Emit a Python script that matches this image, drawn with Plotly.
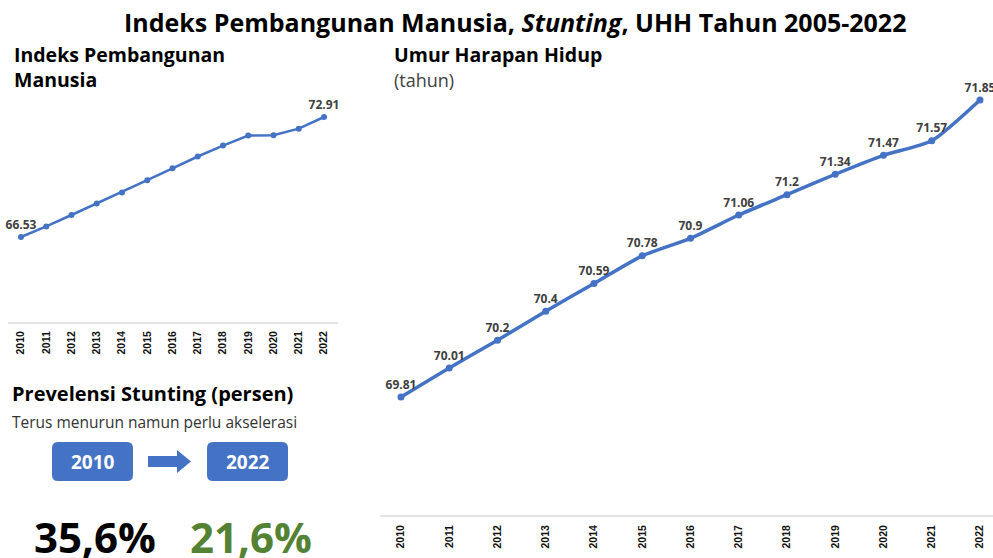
import plotly.graph_objects as go

W, H = 993, 558

years = list(range(2010, 2023))
ipm = [66.53, 67.09, 67.70, 68.31, 68.90, 69.55, 70.18, 70.81, 71.39, 71.92, 71.94, 72.29, 72.91]
ipm_labels = ["66.53", "", "", "", "", "", "", "", "", "", "", "", "72.91"]
uhh = [69.81, 70.01, 70.2, 70.4, 70.59, 70.78, 70.9, 71.06, 71.2, 71.34, 71.47, 71.57, 71.85]
uhh_labels = ["69.81", "70.01", "70.2", "70.4", "70.59", "70.78", "70.9", "71.06", "71.2", "71.34", "71.47", "71.57", "71.85"]
stunting_years = ["2010", "2022"]
stunting_values = ["35,6%", "21,6%"]

BLUE = "#4472C4"
LABEL = "#404040"


def px(x):
    return x / W


def py(y):
    return 1 - y / H


fig = go.Figure()

fig.add_trace(go.Scatter(
    x=years, y=ipm, mode="lines+markers+text", text=ipm_labels,
    textposition="top center",
    textfont=dict(family="Open Sans", size=12, color=LABEL, weight="bold"),
    line=dict(color=BLUE, width=2.5), marker=dict(size=6, color=BLUE),
    xaxis="x", yaxis="y", cliponaxis=False, hoverinfo="skip",
))
fig.add_trace(go.Scatter(
    x=years, y=uhh, mode="lines+markers+text", text=uhh_labels,
    textposition="top center",
    textfont=dict(family="Open Sans", size=12, color=LABEL, weight="bold"),
    line=dict(color=BLUE, width=3.5, shape="spline", smoothing=0.6),
    marker=dict(size=7, color=BLUE),
    xaxis="x2", yaxis="y2", cliponaxis=False, hoverinfo="skip",
))

tickfont = dict(family="Liberation Sans", size=10.5, color="#111111", weight="bold")
axis_common = dict(
    showgrid=False, zeroline=False, showline=True, linecolor="#e4e4e4", linewidth=2,
    tickangle=-90, ticks="", tickfont=tickfont, tickvals=years,
    ticktext=[str(y) for y in years], fixedrange=True,
)


def rrect(x0, y0, x1, y1, r):
    return (f"M {px(x0 + r)},{py(y0)} L {px(x1 - r)},{py(y0)} "
            f"Q {px(x1)},{py(y0)} {px(x1)},{py(y0 + r)} L {px(x1)},{py(y1 - r)} "
            f"Q {px(x1)},{py(y1)} {px(x1 - r)},{py(y1)} L {px(x0 + r)},{py(y1)} "
            f"Q {px(x0)},{py(y1)} {px(x0)},{py(y1 - r)} L {px(x0)},{py(y0 + r)} "
            f"Q {px(x0)},{py(y0)} {px(x0 + r)},{py(y0)} Z")


arrow = (f"M {px(148)},{py(456)} L {px(177)},{py(456)} L {px(177)},{py(450)} "
         f"L {px(191)},{py(461.5)} L {px(177)},{py(473)} L {px(177)},{py(467)} "
         f"L {px(148)},{py(467)} Z")

shapes = [
    dict(type="path", xref="paper", yref="paper", path=rrect(52, 442, 133, 481, 6),
         fillcolor=BLUE, line=dict(width=0)),
    dict(type="path", xref="paper", yref="paper", path=rrect(207, 442, 288, 481, 6),
         fillcolor=BLUE, line=dict(width=0)),
    dict(type="path", xref="paper", yref="paper", path=arrow,
         fillcolor=BLUE, line=dict(width=0)),
]


def ann(text, x, y, size, color="#000000", bold=True, xanchor="left", family="Open Sans"):
    return dict(text=text, x=px(x), y=py(y), xref="paper", yref="paper",
                xanchor=xanchor, yanchor="middle", showarrow=False, align=xanchor,
                font=dict(family=family, size=size, color=color,
                          weight="bold" if bold else "normal"))


annotations = [
    ann("Indeks Pembangunan Manusia, <i>Stunting</i>, UHH Tahun 2005-2022", 515, 21.5, 25,
        xanchor="center"),
    ann("Indeks Pembangunan<br>Manusia", 12, 67, 19.5),
    ann("Umur Harapan Hidup", 392, 55, 19.5),
    ann("(tahun)", 392, 80, 18, color="#404040", bold=False),
    ann("Prevelensi Stunting (persen)", 10, 393, 20),
    ann("Terus menurun namun perlu akselerasi", 10, 422, 15.5, color="#333333", bold=False),
    ann(stunting_years[0], 92.5, 462, 19, color="#ffffff", xanchor="center"),
    ann(stunting_years[1], 247.5, 462, 19, color="#ffffff", xanchor="center"),
    ann(stunting_values[0], 95, 536, 42, xanchor="center"),
    ann(stunting_values[1], 251, 536, 42, color="#548235", xanchor="center"),
]

fig.update_layout(
    width=W, height=H, margin=dict(l=0, r=0, t=0, b=0),
    paper_bgcolor="white", plot_bgcolor="white", showlegend=False,
    xaxis=dict(domain=[px(8), px(338)], range=[2009.485, 2022.554], anchor="y",
               ticklabelstandoff=3, **axis_common),
    yaxis=dict(domain=[py(322), py(95)], range=[62.01, 74.08], visible=False, fixedrange=True),
    xaxis2=dict(domain=[px(380), 1], range=[2009.565, 2022.27], anchor="y2",
                ticklabelstandoff=4, **axis_common),
    yaxis2=dict(domain=[py(515), py(85)], range=[69.0, 71.953], visible=False, fixedrange=True),
    shapes=shapes, annotations=annotations,
)

fig.write_html("out.html", config={"displayModeBar": False},
               post_script="document.body.style.margin='0';")
